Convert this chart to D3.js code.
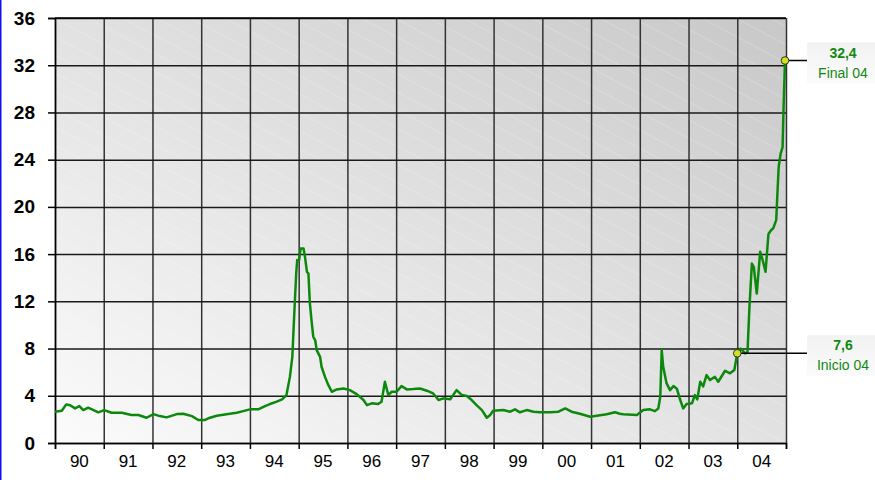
<!DOCTYPE html>
<html>
<head>
<meta charset="utf-8">
<script src="https://cdn.jsdelivr.net/npm/d3@7"></script>
<style>
  body { margin: 0; background: #ffffff; }
  svg { display: block; font-family: "Liberation Sans", Arial, sans-serif; }
</style>
</head>
<body>
<div id="chart"></div>
<script>
// Year labels (centred in each year band) and y ticks
const yearLabels = ['90', '91', '92', '93', '94', '95', '96', '97', '98', '99', '00', '01', '02', '03', '04'];
const firstYear = 1990;
const yTicks = [0, 4, 8, 12, 16, 20, 24, 28, 32, 36];

// Series: time in decimal years, value
const dates = [
    1990.00, 1990.14, 1990.23, 1990.31, 1990.41, 1990.50, 1990.58, 1990.68, 1990.79, 1990.89,
    1991.01, 1991.16, 1991.37, 1991.57, 1991.71, 1991.88, 1992.02, 1992.15, 1992.29, 1992.50,
    1992.63, 1992.81, 1992.94, 1993.08, 1993.18, 1993.32, 1993.52, 1993.73, 1993.86, 1994.00,
    1994.17, 1994.31, 1994.41, 1994.55, 1994.66, 1994.75, 1994.82, 1994.87, 1994.91, 1994.95,
    1994.97, 1995.01, 1995.04, 1995.10, 1995.13, 1995.17, 1995.20, 1995.23, 1995.27, 1995.30,
    1995.34, 1995.37, 1995.44, 1995.47, 1995.54, 1995.61, 1995.68, 1995.78, 1995.92, 1996.05,
    1996.19, 1996.33, 1996.40, 1996.50, 1996.63, 1996.70, 1996.77, 1996.84, 1996.91, 1997.01,
    1997.11, 1997.22, 1997.35, 1997.49, 1997.63, 1997.76, 1997.87, 1997.97, 1998.11, 1998.24,
    1998.35, 1998.45, 1998.55, 1998.65, 1998.76, 1998.86, 1998.93, 1998.99, 1999.20, 1999.34,
    1999.44, 1999.54, 1999.68, 1999.82, 1999.95, 2000.16, 2000.33, 2000.47, 2000.60, 2000.77,
    2000.98, 2001.12, 2001.32, 2001.49, 2001.59, 2001.66, 2001.94, 2002.07, 2002.21, 2002.31,
    2002.38, 2002.42, 2002.45, 2002.48, 2002.55, 2002.62, 2002.69, 2002.76, 2002.83, 2002.89,
    2002.96, 2003.07, 2003.13, 2003.18, 2003.24, 2003.30, 2003.37, 2003.44, 2003.54, 2003.61,
    2003.75, 2003.85, 2003.94, 2004.00, 2004.07, 2004.16, 2004.21, 2004.25, 2004.30, 2004.34,
    2004.40, 2004.47, 2004.52, 2004.58, 2004.64, 2004.69, 2004.74, 2004.80, 2004.82, 2004.85,
    2004.89, 2004.93, 2004.95, 2004.98
];
const values = [
    2.65, 2.73, 3.27, 3.20, 2.93, 3.13, 2.79, 2.99, 2.79, 2.60,
    2.79, 2.56, 2.56, 2.37, 2.37, 2.14, 2.45, 2.28, 2.17, 2.45,
    2.48, 2.28, 1.95, 1.95, 2.14, 2.31, 2.43, 2.56, 2.70, 2.85,
    2.85, 3.13, 3.30, 3.50, 3.70, 4.06, 5.60, 7.30, 10.97, 14.40,
    15.50, 15.50, 16.47, 16.47, 15.76, 14.50, 14.36, 11.82, 10.13, 9.00,
    8.70, 7.87, 7.30, 6.46, 5.60, 4.90, 4.34, 4.54, 4.62, 4.48,
    4.14, 3.64, 3.21, 3.36, 3.30, 3.50, 5.19, 4.06, 4.34, 4.34,
    4.82, 4.54, 4.57, 4.62, 4.43, 4.20, 3.64, 3.78, 3.70, 4.48,
    4.06, 3.98, 3.64, 3.21, 2.79, 2.14, 2.37, 2.73, 2.79, 2.65,
    2.85, 2.60, 2.79, 2.65, 2.60, 2.60, 2.65, 2.93, 2.65, 2.48,
    2.23, 2.31, 2.43, 2.60, 2.48, 2.43, 2.37, 2.79, 2.85, 2.70,
    2.93, 3.92, 7.87, 6.46, 5.05, 4.48, 4.82, 4.60, 3.64, 2.93,
    3.30, 3.36, 4.06, 3.70, 5.19, 4.80, 5.75, 5.33, 5.60, 5.19,
    6.12, 5.90, 6.19, 7.60, 8.00, 7.59, 7.70, 11.53, 15.20, 14.90,
    12.66, 16.20, 15.50, 14.50, 17.70, 18.00, 18.20, 18.90, 20.80, 23.40,
    24.50, 25.07, 28.40, 32.40
];

// Annotated points
const noteDates = [2004.98, 2004.00];
const noteLabels = ['Final 04', 'Inicio 04'];

const W = 875, H = 480;
const margin = { top: 18, right: 89, bottom: 37, left: 55 };
const width = W - margin.left - margin.right;
const height = H - margin.top - margin.bottom;

const svg = d3.select('#chart').append('svg')
    .attr('width', W)
    .attr('height', H);

const defs = svg.append('defs');
const grad = defs.append('linearGradient')
    .attr('id', 'bg')
    .attr('x1', 0).attr('y1', 1).attr('x2', 1).attr('y2', 0);
grad.append('stop').attr('offset', '0%').attr('stop-color', '#fbfbfb');
grad.append('stop').attr('offset', '100%').attr('stop-color', '#c8c8c8');

const stripes = defs.append('pattern')
    .attr('id', 'stripes')
    .attr('patternUnits', 'userSpaceOnUse')
    .attr('width', 16).attr('height', 16)
    .attr('patternTransform', 'rotate(28)');
stripes.append('line')
    .attr('x1', 0).attr('y1', 0.5).attr('x2', 16).attr('y2', 0.5)
    .attr('stroke', '#ffffff')
    .attr('stroke-opacity', 0.18)
    .attr('stroke-width', 1);

const boxGrad = defs.append('linearGradient')
    .attr('id', 'box')
    .attr('x1', 0).attr('y1', 0).attr('x2', 0).attr('y2', 1);
boxGrad.append('stop').attr('offset', '0%').attr('stop-color', '#f2f2f2');
boxGrad.append('stop').attr('offset', '100%').attr('stop-color', '#fbfbfb');

// blue left edge
svg.append('rect')
    .attr('x', 0).attr('y', 0)
    .attr('width', 1.5).attr('height', H)
    .attr('fill', '#1010f0');

const g = svg.append('g')
    .attr('transform', `translate(${margin.left},${margin.top})`);

const x = d3.scaleLinear()
    .domain([firstYear, firstYear + yearLabels.length])
    .range([0, width]);
const y = d3.scaleLinear()
    .domain([0, 36])
    .range([height, 0]);

g.append('rect')
    .attr('width', width).attr('height', height)
    .attr('fill', 'url(#bg)');
g.append('rect')
    .attr('width', width).attr('height', height)
    .attr('fill', 'url(#stripes)');

const yearTicks = d3.range(firstYear, firstYear + yearLabels.length + 1);

// grid lines
g.append('g')
    .attr('class', 'grid grid--x')
    .attr('transform', `translate(0,${height})`)
    .call(d3.axisBottom(x).tickValues(yearTicks).tickSize(-height).tickFormat(''))
    .call(s => s.select('.domain').remove())
    .selectAll('line')
    .attr('stroke', '#333')
    .attr('stroke-width', 1.5);

g.append('g')
    .attr('class', 'grid grid--y')
    .call(d3.axisLeft(y).tickValues(yTicks).tickSize(-width).tickFormat(''))
    .call(s => s.select('.domain').remove())
    .selectAll('line')
    .attr('stroke', '#1a1a1a')
    .attr('stroke-width', 1.5);

// Y axis
const yAxis = g.append('g')
    .call(d3.axisLeft(y).tickValues(yTicks).tickSize(7).tickPadding(13));
yAxis.select('.domain').attr('stroke', '#000').attr('stroke-width', 1.5);
yAxis.selectAll('line').attr('stroke', '#000').attr('stroke-width', 1.5);
yAxis.selectAll('text')
    .style('font-family', '"Liberation Sans", Arial, sans-serif')
    .style('font-size', '19px')
    .style('font-weight', 'bold')
    .attr('fill', '#000');

// X axis
const xAxis = g.append('g')
    .attr('transform', `translate(0,${height})`)
    .call(d3.axisBottom(x).tickValues(yearTicks).tickSize(6).tickFormat(''));
xAxis.select('.domain').attr('stroke', '#000').attr('stroke-width', 1.5);
xAxis.selectAll('line').attr('stroke', '#000').attr('stroke-width', 1.5);

g.append('g')
    .selectAll('text')
    .data(yearLabels)
    .enter()
    .append('text')
    .attr('x', (d, i) => x(firstYear + i + 0.5))
    .attr('y', height + 24)
    .attr('text-anchor', 'middle')
    .style('font-size', '17px')
    .attr('fill', '#000')
    .text(d => d);

// top border
g.append('line')
    .attr('x1', 0).attr('x2', width)
    .attr('y1', 0).attr('y2', 0)
    .attr('stroke', '#000').attr('stroke-width', 1.5);

// line series
const series = dates.map((d, i) => ({ t: d, v: values[i] }));
const line = d3.line()
    .x(d => x(d.t))
    .y(d => y(d.v));

g.append('path')
    .datum(series)
    .attr('fill', 'none')
    .attr('stroke', '#0c880c')
    .attr('stroke-width', 2.5)
    .attr('stroke-linejoin', 'round')
    .attr('d', line);

// annotations
const fmt = v => d3.format('.1f')(v).replace('.', ',');
const boxX = 752;
const boxW = W - margin.left - boxX;

noteDates.forEach((t, i) => {
    const d = series.find(p => p.t === t);
    const px = x(d.t), py = y(d.v);

    g.append('line')
        .attr('x1', px).attr('x2', boxX)
        .attr('y1', py).attr('y2', py)
        .attr('stroke', '#000')
        .attr('stroke-width', 1.5);

    g.append('circle')
        .attr('cx', px).attr('cy', py)
        .attr('r', 3.8)
        .attr('fill', '#d4e21a')
        .attr('stroke', '#333')
        .attr('stroke-width', 1);

    const box = g.append('g')
        .attr('transform', `translate(${boxX},${py - 18})`);
    box.append('rect')
        .attr('width', boxW).attr('height', 41)
        .attr('fill', 'url(#box)');
    box.append('text')
        .attr('x', boxW / 2 + 2).attr('y', 15)
        .attr('text-anchor', 'middle')
        .style('font-size', '14px')
        .style('font-weight', 'bold')
        .attr('fill', '#118811')
        .text(fmt(d.v));
    box.append('text')
        .attr('x', boxW / 2 + 2).attr('y', 35)
        .attr('text-anchor', 'middle')
        .style('font-size', '14px')
        .attr('fill', '#118811')
        .text(noteLabels[i]);
});
</script>
</body>
</html>
